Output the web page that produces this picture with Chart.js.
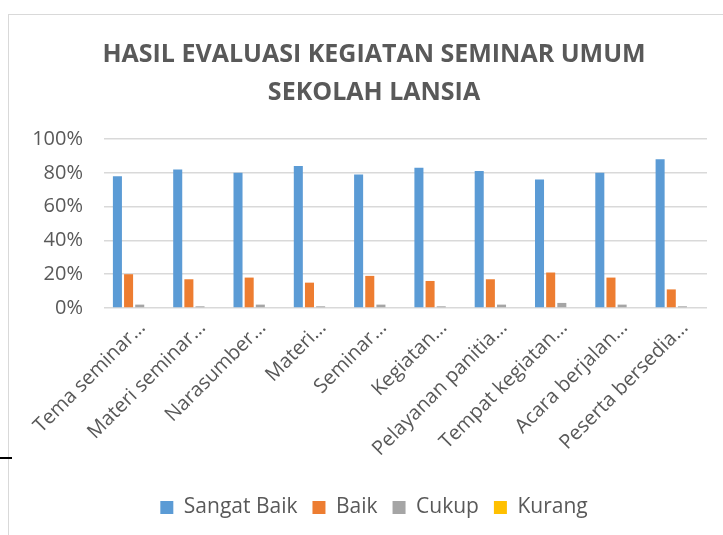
<!DOCTYPE html>
<html>
<head>
<meta charset="utf-8">
<script src="https://cdn.jsdelivr.net/npm/chart.js@4.4.1/dist/chart.umd.min.js"></script>
<style>
  html, body { margin: 0; padding: 0; background: #fff; overflow: hidden; width: 723px; height: 535px; }
  #frame { position: absolute; left: 8px; top: 14px; width: 730px; height: 531px;
           border-left: 1px solid #d9d9d9; border-top: 1px solid #d9d9d9; }
  #tick { position: absolute; left: 0; top: 457px; width: 12px; height: 2px; background: #000; }
</style>
</head>
<body>
<div id="frame"><canvas id="evalChart" width="730" height="530"></canvas></div>
<div id="tick"></div>
<script>
const categories = ['Tema seminar…', 'Materi seminar…', 'Narasumber…', 'Materi…', 'Seminar…',
  'Kegiatan…', 'Pelayanan panitia…', 'Tempat kegiatan…', 'Acara berjalan…', 'Peserta bersedia…'];
const sangatBaik = [78, 82, 80, 84, 79, 83, 81, 76, 80, 88];
const baik = [20, 17, 18, 15, 19, 16, 17, 21, 18, 11];
const cukup = [2, 1, 2, 1, 2, 1, 2, 3, 2, 1];
const kurang = [0, 0, 0, 0, 0, 0, 0, 0, 0, 0];
const yTicks = [0, 20, 40, 60, 80, 100];

const textColor = '#595959';
const fontFamily = '"Open Sans", Lato, sans-serif';

const ctx = document.getElementById('evalChart').getContext('2d');

function makeSet(label, data, color) {
  return {
    label: label,
    data: data,
    backgroundColor: color,
    borderWidth: 0,
    categoryPercentage: 0.74,
    barPercentage: 0.81
  };
}

const evalChart = new Chart(ctx, {
  type: 'bar',
  data: {
    labels: categories,
    datasets: [
      makeSet('Sangat Baik', sangatBaik, '#5B9BD5'),
      makeSet('Baik', baik, '#ED7D31'),
      makeSet('Cukup', cukup, '#A5A5A5'),
      makeSet('Kurang', kurang, '#FFC000')
    ]
  },
  options: {
    responsive: false,
    animation: false,
    layout: {
      padding: { left: 0, right: 0, top: 21, bottom: 17 }
    },
    plugins: {
      title: {
        display: true,
        text: ['HASIL EVALUASI KEGIATAN SEMINAR UMUM', 'SEKOLAH LANSIA'],
        color: textColor,
        font: { family: fontFamily, size: 25, weight: 'bold', lineHeight: 1.52 },
        padding: { top: 0, bottom: 27 }
      },
      legend: {
        display: true,
        position: 'bottom',
        labels: {
          color: textColor,
          boxWidth: 13,
          boxHeight: 13,
          padding: 15,
          font: { family: fontFamily, size: 21 }
        }
      },
      tooltip: { enabled: false }
    },
    scales: {
      y: {
        min: 0,
        max: 100,
        afterBuildTicks: (scale) => { scale.ticks = yTicks.map(v => ({ value: v })); },
        border: { display: false },
        grid: { color: '#d9d9d9', lineWidth: 1.5, drawTicks: false },
        ticks: {
          color: textColor,
          padding: 21,
          font: { family: fontFamily, size: 20 },
          callback: (v) => v + '%'
        },
        afterFit: (scale) => { scale.width = 95; }
      },
      x: {
        border: { display: false },
        grid: { display: false, drawTicks: false },
        ticks: {
          color: textColor,
          padding: 8,
          labelOffset: 8,
          maxRotation: 45,
          minRotation: 45,
          autoSkip: false,
          font: { family: fontFamily, size: 20 }
        },
        afterFit: (scale) => {
          scale.height = 174;
          scale.paddingRight = 32;
        }
      }
    }
  }
});
</script>
</body>
</html>
